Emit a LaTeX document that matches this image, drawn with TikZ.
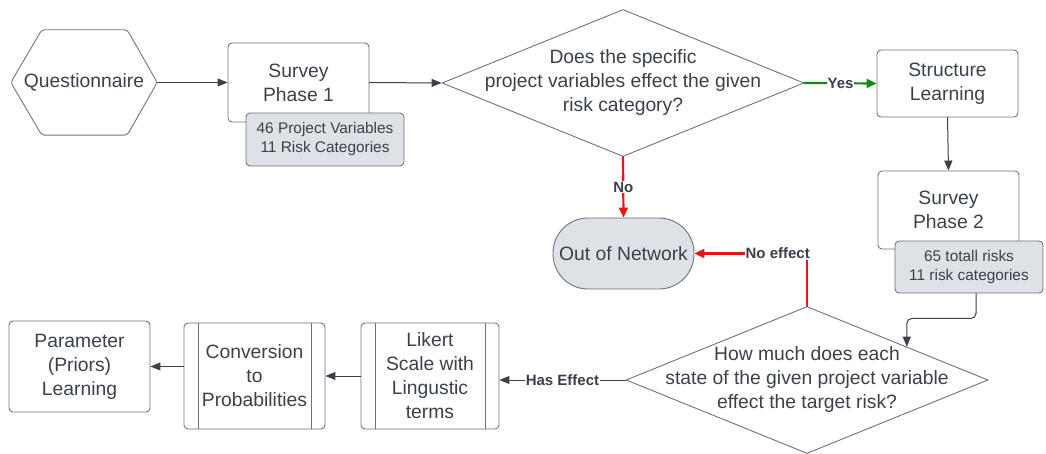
\documentclass[tikz,border=0pt]{standalone}
\usepackage{fontspec}
\setmainfont{Liberation Sans}
\usetikzlibrary{shapes.geometric,arrows.meta,calc}
\definecolor{ink}{HTML}{3A414A}
\definecolor{edgegray}{HTML}{6E737B}
\definecolor{boxgray}{HTML}{DEE1E6}
\definecolor{yesgreen}{HTML}{138A13}
\definecolor{nored}{HTML}{E51616}
\begin{document}
\begin{tikzpicture}[x=1pt, y=-1pt, line join=round, line cap=round,
	>={Triangle[length=10pt,width=8pt]},
	font=\fontsize{19.3}{24}\selectfont, text=ink,
	box/.style={draw=edgegray, fill=white, line width=0.9pt, rounded corners=4pt,
		minimum width=141pt, align=center, inner sep=0pt},
	note/.style={box, fill=boxgray, font=\fontsize{15.4}{19}\selectfont},
	proc/.style={box, path picture={
		\draw[edgegray, line width=0.9pt] ([xshift=14pt]path picture bounding box.north west) -- ([xshift=14pt]path picture bounding box.south west);
		\draw[edgegray, line width=0.9pt] ([xshift=-14pt]path picture bounding box.north east) -- ([xshift=-14pt]path picture bounding box.south east);}},
	decision/.style={draw=edgegray, fill=white, line width=0.9pt, shape=diamond,
		minimum width=362pt, minimum height=147pt, inner sep=0pt},
	flow/.style={draw=ink, line width=1pt, ->},
	yesflow/.style={draw=yesgreen, line width=2.2pt, -{Triangle[length=10pt,width=9pt]}},
	noflow/.style={draw=nored, line width=2.2pt, -{Triangle[length=10pt,width=9pt]}},
	tag/.style={fill=white, font=\fontsize{15}{17}\selectfont\bfseries, inner sep=1pt}]
	\useasboundingbox (0,0) rectangle (1046,454);
	% Questionnaire (hexagon)
	\node[minimum width=146pt, minimum height=105pt, inner sep=0pt] (quest) at (84,82.5) {};
	\draw[edgegray, line width=0.9pt, rounded corners=3pt, fill=white]
		(quest.west) -- ([xshift=31pt]quest.north west) -- ([xshift=-30pt]quest.north east)
		-- (quest.east) -- ([xshift=-30pt]quest.south east) -- ([xshift=31pt]quest.south west) -- cycle;
	\node at (quest.center) {Questionnaire};
	% Survey phase 1 and its note
	\node[box, minimum height=79pt] (sur1) at (298.5,82.5) {Survey\\Phase 1};
	\node[note, minimum width=158pt, minimum height=53pt] (sub1) at (325,139.5) {46 Project Variables\\11 Risk Categories};
	% First question
	\node[decision, label={[align=center]center:Does the specific\\project variables effect the given\\risk category?}] (dq1) at (623,83) {};
	% Structure learning and survey phase 2
	\node[box, minimum height=67pt] (struct) at (947.5,83.5) {Structure\\Learning};
	\node[box, minimum height=78pt] (sur2) at (948.5,210) {Survey\\Phase 2};
	\node[note, minimum width=148pt, minimum height=52pt] (sub2) at (969,267) {65 totall risks\\11 risk categories};
	% Out of network
	\node[box, fill=boxgray, minimum height=71pt, rounded corners=35pt] (oon) at (623.5,253.5) {Out of Network};
	% Second question
	\node[decision, label={[align=center]center:How much does each\\state of the given project variable\\effect the target risk?}] (dq2) at (807,380) {};
	\coordinate (dq2in) at ($(dq2.north)!0.55!(dq2.east)$);
	% Bottom row
	\node[proc, minimum width=138pt, minimum height=106pt] (likert) at (430,376) {Likert\\Scale with\\Lingustic\\terms};
	\node[proc, minimum height=106pt] (conv) at (254.5,376) {Conversion\\to\\Probabilities};
	\node[box, minimum height=91pt] (param) at (79.5,366.5) {Parameter\\(Priors)\\Learning};
	% Connectors
	\draw[flow] (quest.east) -- (sur1.west);
	\draw[flow] (sur1.east) -- (dq1.west);
	\draw[yesflow] (dq1.east) -- node[tag] {Yes} (struct.west);
	\draw[noflow] (dq1.south) -- node[tag] {No} (oon.north);
	\draw[flow] (struct.south) -- (sur2.north);
	\draw[flow, rounded corners=5pt] ([xshift=7pt]sub2.south) -- ++(0,25) -| (dq2in);
	\draw[noflow] (dq2.north) |- node[tag, pos=0.63] {No effect} (oon.east);
	\draw[flow] (dq2.west) -- node[tag] {Has Effect} (dq2.west -| likert.east);
	\draw[flow] (likert.west) -- (conv.east);
	\draw[flow] (conv.west |- param.east) -- (param.east);
\end{tikzpicture}
\end{document}
